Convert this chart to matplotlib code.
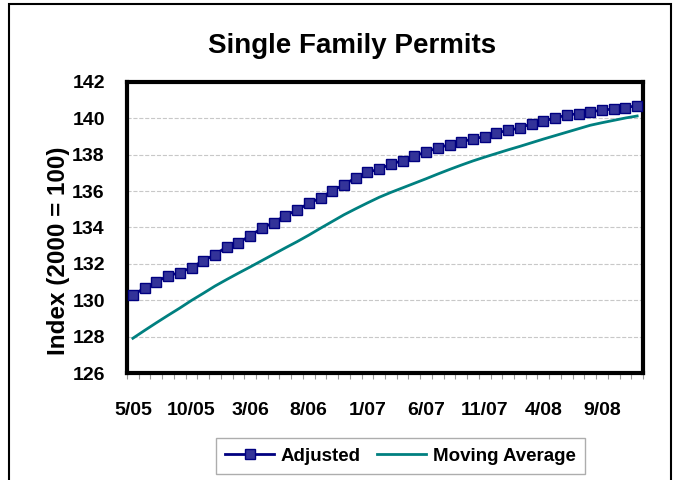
import matplotlib
matplotlib.use("Agg")
import matplotlib.pyplot as plt
import matplotlib.patches as patches
import numpy as np

plt.rcParams["font.family"] = ["Liberation Sans", "DejaVu Sans"]
plt.rcParams["font.weight"] = "bold"

months = [
    "5/05", "6/05", "7/05", "8/05", "9/05", "10/05", "11/05", "12/05",
    "1/06", "2/06", "3/06", "4/06", "5/06", "6/06", "7/06", "8/06",
    "9/06", "10/06", "11/06", "12/06",
    "1/07", "2/07", "3/07", "4/07", "5/07", "6/07", "7/07", "8/07",
    "9/07", "10/07", "11/07", "12/07",
    "1/08", "2/08", "3/08", "4/08", "5/08", "6/08", "7/08", "8/08",
    "9/08", "10/08", "11/08", "12/08",
]

adjusted = [
    130.29, 130.67, 131.00, 131.36, 131.51, 131.80, 132.17, 132.51, 132.93, 133.17,
    133.54, 133.96, 134.27, 134.65, 134.96, 135.33, 135.62, 136.02, 136.35, 136.73,
    137.03, 137.21, 137.48, 137.68, 137.92, 138.16, 138.37, 138.56, 138.71, 138.87,
    139.00, 139.20, 139.34, 139.47, 139.71, 139.85, 140.02, 140.18, 140.26, 140.35,
    140.46, 140.51, 140.59, 140.70,
]

moving_avg = [
    127.91, 128.34, 128.76, 129.17, 129.57, 129.99, 130.38, 130.78, 131.14, 131.49,
    131.83, 132.18, 132.53, 132.88, 133.22, 133.58, 133.96, 134.33, 134.70, 135.03,
    135.35, 135.66, 135.93, 136.18, 136.43, 136.68, 136.94, 137.19, 137.43, 137.66,
    137.87, 138.07, 138.27, 138.46, 138.66, 138.86, 139.05, 139.24, 139.43, 139.62,
    139.76, 139.89, 140.02, 140.13,
]

y_ticks = [126, 128, 130, 132, 134, 136, 138, 140, 142]

x = np.arange(len(months))

fig = plt.figure(figsize=(6.81, 4.8), dpi=100)
ax = fig.add_axes([0.1865, 0.2229, 0.7577, 0.6063])

ax.plot(x, moving_avg, color="#008080", lw=2, label="Moving Average", zorder=3)
ax.plot(x, adjusted, color="#000080", lw=2, marker="s", markersize=6.5,
        markerfacecolor="#333399", markeredgecolor="#000080",
        label="Adjusted", zorder=4)

ax.set_xlim(-0.5, len(months) - 0.5)
ax.set_ylim(126, 142)
ax.set_yticks(y_ticks)
ax.set_yticklabels([str(v) for v in y_ticks], fontsize=14, fontweight="bold")
ax.tick_params(axis="y", length=0, pad=16)

ax.set_xticks(x[::5])
ax.set_xticklabels(months[::5], fontsize=14, fontweight="bold")
ax.set_xticks(np.arange(-0.5, len(months), 1), minor=True)
ax.tick_params(axis="x", which="major", length=0, pad=21)
ax.tick_params(axis="x", which="minor", length=4, color="#999999", width=0.8)

ax.grid(axis="y", color="#c8c8c8", linestyle="--", lw=0.8)
ax.set_axisbelow(True)

for s in ax.spines.values():
    s.set_linewidth(3)
    s.set_color("black")

ax.set_ylabel("Index (2000 = 100)", fontsize=17.5, fontweight="bold")
ax.yaxis.set_label_coords(-0.11, 0.42)

fig.text(0.517, 0.905, "Single Family Permits", ha="center", va="center",
         fontsize=20, fontweight="bold")

handles, labels = ax.get_legend_handles_labels()
leg = fig.legend(handles[::-1], labels[::-1], loc="center",
                 bbox_to_anchor=(0.588, 0.05), ncol=2, frameon=True,
                 fancybox=False, edgecolor="#999999", fontsize=13.5,
                 handlelength=2.6, handletextpad=0.35, columnspacing=0.9,
                 borderpad=0.5)
for t in leg.get_texts():
    t.set_fontweight("bold")

fig.patches.append(patches.Rectangle((9 / 681, -0.02), 662 / 681, 1 - 4 / 480 + 0.02,
                                     transform=fig.transFigure, fill=False,
                                     edgecolor="black", lw=1.5))

fig.savefig("out.png", dpi=100)
